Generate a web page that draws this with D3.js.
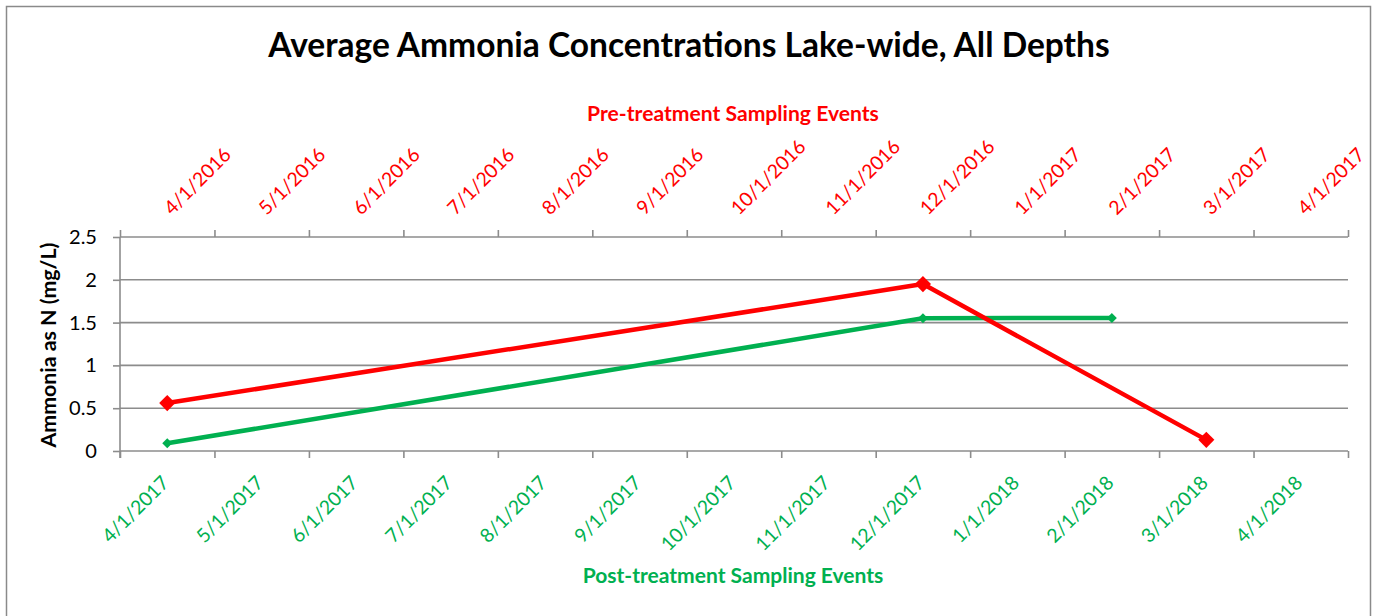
<!DOCTYPE html>
<html><head><meta charset="utf-8">
<script src="https://cdn.jsdelivr.net/npm/d3@7"></script>
<style>html,body{margin:0;padding:0;background:#fff;} svg{display:block;}</style>
</head><body>
<svg id="c" width="1374" height="616"></svg>
<script>
const preMonths = ["4/1/2016","5/1/2016","6/1/2016","7/1/2016","8/1/2016","9/1/2016","10/1/2016","11/1/2016","12/1/2016","1/1/2017","2/1/2017","3/1/2017","4/1/2017"];
const postMonths = ["4/1/2017","5/1/2017","6/1/2017","7/1/2017","8/1/2017","9/1/2017","10/1/2017","11/1/2017","12/1/2017","1/1/2018","2/1/2018","3/1/2018","4/1/2018"];
const yTicks = [0, 0.5, 1, 1.5, 2, 2.5];
const preDates = ["4/1/2016","12/1/2016","3/1/2017"];
const preValues = [0.56, 1.95, 0.13];
const postDates = ["4/1/2017","12/1/2017","2/1/2018"];
const postValues = [0.09, 1.55, 1.555];
const titleText = "Average Ammonia Concentrations Lake-wide, All Depths";
const preTitle = "Pre-treatment Sampling Events";
const postTitle = "Post-treatment Sampling Events";
const yTitle = "Ammonia as N (mg/L)";

const RED = "#ff0000", GREEN = "#00b050", GRID = "#8c8c8c";
const FONT = "Lato, 'Noto Sans', sans-serif";
const svg = d3.select("#c");

function fit(text, weight, target) {
  const t = svg.append("text").attr("font-family", FONT).attr("font-weight", weight)
    .attr("font-size", 100).text(text);
  const w = t.node().getComputedTextLength();
  t.remove();
  return 100 * target / w;
}

// frame
svg.append("rect").attr("x", 6.5).attr("y", 6.5).attr("width", 1364).attr("height", 620)
  .attr("fill", "#fff").attr("stroke", "#8a8a8a").attr("stroke-width", 1.5);

const L = 120, R = 1348, T = 237, B = 451;
const xPost = d3.scaleBand().domain(postMonths).range([L, R]).padding(0);
const xPre = d3.scaleBand().domain(preMonths).range([L, R]).padding(0);
const xIdx = d3.scaleLinear().domain([0, postMonths.length]).range([L, R]);
const y = d3.scaleLinear().domain([0, 2.5]).range([B, T]);

// gridlines
svg.append("g").selectAll("line").data(yTicks).join("line")
  .attr("x1", L).attr("x2", R).attr("y1", d => y(d)).attr("y2", d => y(d))
  .attr("stroke", GRID).attr("stroke-width", 1.6);

// left axis
const yAxis = svg.append("g").attr("transform", `translate(${L},0)`)
  .call(d3.axisLeft(y).tickValues(yTicks).tickSize(7).tickPadding(16).tickFormat(d => String(d)));
yAxis.select(".domain").attr("stroke", GRID).attr("stroke-width", 1.6).attr("d", `M0,${T}V${B + 7}`);
yAxis.selectAll(".tick line").attr("stroke", GRID).attr("stroke-width", 1.6);
const yFs = fit("2.5", 400, 28);
yAxis.selectAll(".tick text").attr("font-family", FONT).attr("font-size", yFs).attr("fill", "#000");

// bottom ticks
const bAxis = svg.append("g").attr("transform", `translate(0,${B})`)
  .call(d3.axisBottom(xIdx).tickValues(d3.range(postMonths.length + 1)).tickSize(7).tickFormat(""));
bAxis.select(".domain").remove();
bAxis.selectAll(".tick line").attr("stroke", GRID).attr("stroke-width", 1.6);
// top ticks
const tAxis = svg.append("g").attr("transform", `translate(0,${T})`)
  .call(d3.axisTop(xIdx).tickValues(d3.range(preMonths.length + 1)).tickSize(7).tickFormat(""));
tAxis.select(".domain").remove();
tAxis.selectAll(".tick line").attr("stroke", GRID).attr("stroke-width", 1.6);

// date labels
const dFs = fit("4/1/2017", 400, 85);
svg.append("g").selectAll("text").data(postMonths).join("text")
  .attr("transform", d => `translate(${xPost(d) + xPost.bandwidth() / 2 + 3},${484}) rotate(-45)`)
  .attr("text-anchor", "end").attr("font-family", FONT).attr("font-size", dFs)
  .attr("fill", GREEN).text(d => d);
svg.append("g").selectAll("text").data(preMonths).join("text")
  .attr("transform", d => `translate(${xPre(d) + xPre.bandwidth() / 2 + 5},${216}) rotate(-45)`)
  .attr("text-anchor", "start").attr("font-family", FONT).attr("font-size", dFs)
  .attr("fill", RED).text(d => d);

// series
const line = d3.line();
const prePts = preDates.map((d, i) => [xPre(d) + xPre.bandwidth() / 2, y(preValues[i])]);
const postPts = postDates.map((d, i) => [xPost(d) + xPost.bandwidth() / 2, y(postValues[i])]);

svg.append("path").attr("d", line(postPts)).attr("fill", "none").attr("stroke", GREEN)
  .attr("stroke-width", 4.5).attr("stroke-linejoin", "round");
svg.append("g").selectAll("path").data(postPts).join("path")
  .attr("d", d3.symbol(d3.symbolSquare, 50)())
  .attr("transform", d => `translate(${d[0]},${d[1]}) rotate(45)`).attr("fill", GREEN);

svg.append("path").attr("d", line(prePts)).attr("fill", "none").attr("stroke", RED)
  .attr("stroke-width", 4.5).attr("stroke-linejoin", "round");
svg.append("g").selectAll("path").data(prePts).join("path")
  .attr("d", d3.symbol(d3.symbolSquare, 130)())
  .attr("transform", d => `translate(${d[0]},${d[1]}) rotate(45)`).attr("fill", RED);

// titles
svg.append("text").attr("x", 689).attr("y", 57).attr("text-anchor", "middle")
  .attr("font-family", FONT).attr("font-weight", 700).attr("font-size", fit(titleText, 700, 842))
  .attr("fill", "#000").text(titleText);
svg.append("text").attr("x", 733).attr("y", 121).attr("text-anchor", "middle")
  .attr("font-family", FONT).attr("font-weight", 700).attr("font-size", fit(preTitle, 700, 292))
  .attr("fill", RED).text(preTitle);
svg.append("text").attr("x", 733).attr("y", 583).attr("text-anchor", "middle")
  .attr("font-family", FONT).attr("font-weight", 700).attr("font-size", fit(postTitle, 700, 301))
  .attr("fill", GREEN).text(postTitle);
svg.append("text").attr("transform", "translate(56,345) rotate(-90)").attr("text-anchor", "middle")
  .attr("font-family", FONT).attr("font-weight", 700).attr("font-size", fit(yTitle, 700, 205))
  .attr("fill", "#000").text(yTitle);
</script>
</body></html>
